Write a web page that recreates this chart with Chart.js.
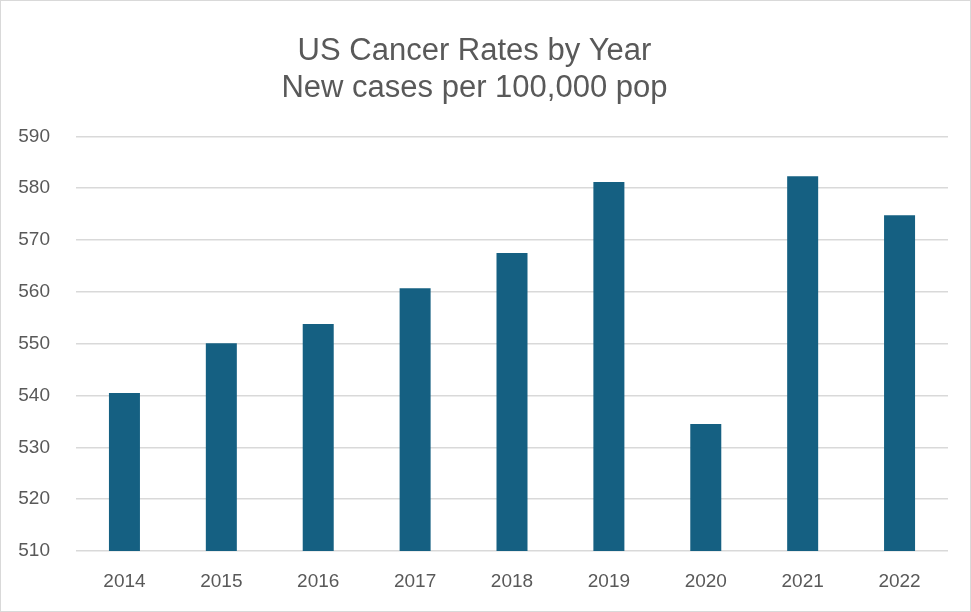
<!DOCTYPE html>
<html>
<head>
<meta charset="utf-8">
<script src="https://cdn.jsdelivr.net/npm/chart.js@4.4.1/dist/chart.umd.min.js"></script>
<style>
  body { margin: 0; background: #fff; }
  #wrap { width: 969px; height: 610px; border: 1px solid #d9d9d9; position: relative; }
</style>
</head>
<body>
<div id="wrap"><canvas id="myc"></canvas></div>
<script>
// data
var years = ["2014", "2015", "2016", "2017", "2018", "2019", "2020", "2021", "2022"]
var newCases = [540.5, 550.1, 553.8, 560.7, 567.5, 581.2, 534.5, 582.3, 574.8]
var titleLines = ["US Cancer Rates by Year", "New cases per 100,000 pop"]
var yMin = 510, yMax = 590, yStep = 10

var textColor = "#595959"
var gridColor = "#d9d9d9"
var fontFam = "'Liberation Sans', Arial, sans-serif"

const data = {
  labels: years,
  datasets: [{
    label: "New cases",
    data: newCases,
    backgroundColor: "#156082",
    barPercentage: 0.64,
    categoryPercentage: 0.5
  }]
}

const config = {
  type: "bar",
  data: data,
  options: {
    responsive: true,
    maintainAspectRatio: false,
    animation: false,
    layout: { padding: { left: 0, right: 22, top: 0, bottom: 1 } },
    plugins: {
      legend: { display: false },
      tooltip: { enabled: false },
      title: {
        display: true,
        text: titleLines,
        color: textColor,
        font: { family: fontFam, size: 31, weight: "normal", lineHeight: 1.2 },
        padding: { top: 32, bottom: 29 }
      }
    },
    scales: {
      x: {
        afterFit: function(scale) { scale.height = 59 },
        grid: { display: false, drawTicks: false },
        border: { display: false },
        ticks: { color: textColor, font: { family: fontFam, size: 19 }, padding: 19 }
      },
      y: {
        min: yMin,
        max: yMax,
        afterFit: function(scale) { scale.width = 75 },
        ticks: { stepSize: yStep, color: textColor, font: { family: fontFam, size: 19 }, padding: 26 },
        grid: { color: gridColor, lineWidth: 1.5, drawTicks: false },
        border: { display: false }
      }
    }
  }
}

const ctx = document.getElementById("myc").getContext("2d")
var myChart = new Chart(ctx, config)
</script>
</body>
</html>
